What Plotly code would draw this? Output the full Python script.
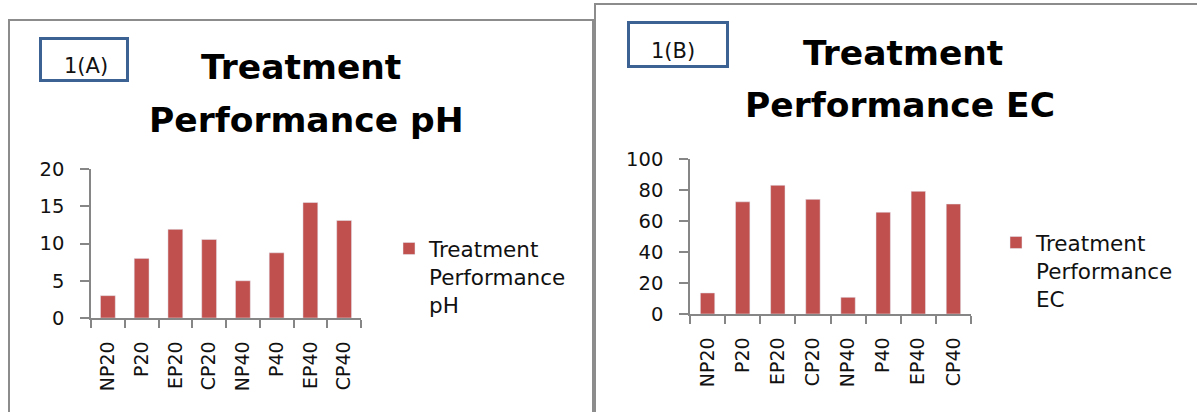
import plotly.graph_objects as go

# ---------------- data ----------------
categories = ["NP20", "P20", "EP20", "CP20", "NP40", "P40", "EP40", "CP40"]
ph_values = [3.0, 8.0, 11.9, 10.55, 5.0, 8.75, 15.5, 13.1]
ec_values = [13.6, 72.5, 83.2, 74.1, 10.8, 65.8, 79.3, 71.1]
ph_ticks = [0, 5, 10, 15, 20]
ec_ticks = [0, 20, 40, 60, 80, 100]
ph_series = "Treatment<br>Performance<br>pH"
ec_series = "Treatment<br>Performance<br>EC"
title_a = ["Treatment", "Performance pH"]
title_b = ["Treatment", "Performance EC"]
label_a = "1(A)"
label_b = "1(B)"

# ---------------- layout helpers ----------------
W, H = 1197, 412


def px(x):
    return x / W


def py(y):
    return 1 - y / H


BAR = "#C0504D"
AX = "#868686"
FONT = "DejaVu Sans"
TXT = "#111111"

fig = go.Figure()
fig.add_trace(go.Bar(x=categories, y=ph_values, name=ph_series, marker_color=BAR,
                     width=0.44, xaxis="x", yaxis="y", legend="legend"))
fig.add_trace(go.Bar(x=categories, y=ec_values, name=ec_series, marker_color=BAR,
                     width=0.41, xaxis="x2", yaxis="y2", legend="legend2"))

xcommon = dict(type="category", range=[-0.5, 7.5], showline=True, linecolor=AX,
               linewidth=1.5, ticks="outside", tickson="boundaries", ticklen=8,
               tickcolor=AX, tickwidth=1.5, tickangle=-90, showgrid=False,
               ticklabelstandoff=14, automargin=False,
               tickfont=dict(family=FONT, size=19, color=TXT), fixedrange=True)
ycommon = dict(showline=True, linecolor=AX, linewidth=1.5, ticks="outside", ticklen=9,
               tickcolor=AX, tickwidth=1.5, showgrid=False, zeroline=False,
               ticklabelstandoff=12, automargin=False,
               tickfont=dict(family=FONT, size=19.5, color=TXT), fixedrange=True)

fig.update_layout(
    width=W, height=H, margin=dict(l=0, r=0, t=0, b=0, autoexpand=False),
    paper_bgcolor="white", plot_bgcolor="white", bargap=0.56,
    xaxis=dict(xcommon, domain=[px(91), px(361)], anchor="y"),
    yaxis=dict(ycommon, domain=[py(318), py(169)], range=[0, 20], tickvals=ph_ticks, anchor="x"),
    xaxis2=dict(xcommon, domain=[px(690), px(971)], anchor="y2"),
    yaxis2=dict(ycommon, domain=[py(314), py(159.3)], range=[0, 100], tickvals=ec_ticks, anchor="x2"),
    legend=dict(x=px(389), y=py(228), xanchor="left", yanchor="top", valign="top",
                bgcolor="rgba(0,0,0,0)", font=dict(family=FONT, size=21.5, color=TXT)),
    legend2=dict(x=px(996), y=py(222), xanchor="left", yanchor="top", valign="top",
                 bgcolor="rgba(0,0,0,0)", font=dict(family=FONT, size=21.5, color=TXT)),
    showlegend=True,
)

shapes = [
    # panel frames
    dict(type="rect", xref="paper", yref="paper", x0=px(9), x1=px(593), y0=py(20), y1=py(440),
         line=dict(color="#8C8C8C", width=2), fillcolor="rgba(0,0,0,0)"),
    dict(type="rect", xref="paper", yref="paper", x0=px(595), x1=px(1220), y0=py(4), y1=py(440),
         line=dict(color="#8C8C8C", width=2), fillcolor="rgba(0,0,0,0)"),
    # label boxes
    dict(type="rect", xref="paper", yref="paper", x0=px(40.5), x1=px(127.5), y0=py(38.5), y1=py(80.5),
         line=dict(color="#3B6293", width=3), fillcolor="white"),
    dict(type="rect", xref="paper", yref="paper", x0=px(628.5), x1=px(727.5), y0=py(22.5), y1=py(66.5),
         line=dict(color="#3B6293", width=3), fillcolor="white"),
]
fig.update_layout(shapes=shapes)

annotations = []
for text, x, y in [(title_a[0], 301, 67), (title_a[1], 306, 120),
                   (title_b[0], 903, 52.5), (title_b[1], 900, 104.5)]:
    annotations.append(dict(text="<b>%s</b>" % text, x=px(x), y=py(y), xref="paper", yref="paper",
                            xanchor="center", yanchor="middle", showarrow=False,
                            font=dict(family=FONT, size=34.5, color="black")))
for text, x, y in [(label_a, 86, 65.5), (label_b, 673, 51)]:
    annotations.append(dict(text=text, x=px(x), y=py(y), xref="paper", yref="paper",
                            xanchor="center", yanchor="middle", showarrow=False,
                            font=dict(family=FONT, size=21, color=TXT)))
fig.update_layout(annotations=annotations)

# place the figure flush with the page corner (no default body margin)
post = ("document.body.style.margin='0';document.body.style.padding='0';"
        "document.documentElement.style.overflow='hidden';"
        "var gd=document.getElementById('{plot_id}');"
        "gd.style.position='absolute';gd.style.left='0px';gd.style.top='0px';")

fig.write_html("out.html", post_script=post, config={"displayModeBar": False})
